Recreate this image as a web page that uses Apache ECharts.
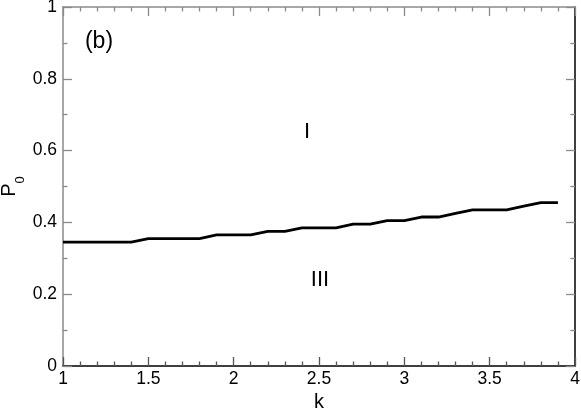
<!DOCTYPE html>
<html>
<head>
<meta charset="utf-8">
<script src="https://cdn.jsdelivr.net/npm/echarts@6/dist/echarts.min.js"></script>
<style>
html,body{margin:0;padding:0;background:#fff;}
#chart{width:581px;height:408px;}
</style>
</head>
<body>
<div id="chart"></div>
<script>
const kValues = [1.0,1.1,1.2,1.3,1.4,1.5,1.6,1.7,1.8,1.9,2.0,2.1,2.2,2.3,2.4,2.5,2.6,2.7,2.8,2.9,3.0,3.1,3.2,3.3,3.4,3.5,3.6,3.7,3.8,3.9];
const p0Values = [0.345,0.345,0.345,0.345,0.345,0.355,0.355,0.355,0.355,0.365,0.365,0.365,0.375,0.375,0.385,0.385,0.385,0.395,0.395,0.405,0.405,0.415,0.415,0.425,0.435,0.435,0.435,0.445,0.455,0.455];
const xTicks = [1, 1.5, 2, 2.5, 3, 3.5, 4];
const yTicks = [0, 0.2, 0.4, 0.6, 0.8, 1];

const FONT = "'Liberation Sans', Arial, Helvetica, sans-serif";
const chart = echarts.init(document.getElementById('chart'), null, {renderer:'canvas'});

function xAxisCfg(pos, showLabel, lineColor, tickColor) {
  return {
    type:'value', position:pos, min:xTicks[0], max:xTicks[xTicks.length-1], interval:0.5,
    axisLine:{show:true, onZero:false, lineStyle:{color:lineColor, width:1.5}},
    axisTick:{show:true, inside:true, length:9, lineStyle:{color:tickColor, width:1.3}},
    minorTick:{show:true, splitNumber:5, length:4.5, lineStyle:{color:tickColor, width:1.3}},
    splitLine:{show:false},
    axisLabel:{show:showLabel, color:'#000', fontSize:17.5, fontFamily:FONT, margin:4,
      formatter: v => String(v)}
  };
}
function yAxisCfg(pos, showLabel, lineColor, tickColor) {
  return {
    type:'value', position:pos, min:yTicks[0], max:yTicks[yTicks.length-1], interval:0.2,
    axisLine:{show:true, onZero:false, lineStyle:{color:lineColor, width:1.5}},
    axisTick:{show:true, inside:true, length:9, lineStyle:{color:tickColor, width:1.3}},
    minorTick:{show:true, splitNumber:2, length:4.5, lineStyle:{color:tickColor, width:1.3}},
    splitLine:{show:false},
    axisLabel:{show:showLabel, color:'#000', fontSize:17.5, fontFamily:FONT, margin:6,
      formatter: v => String(Math.round(v*10)/10)}
  };
}

const xBottom = xAxisCfg('bottom', true, '#000', '#555');
xBottom.name = 'k';
xBottom.nameLocation = 'middle';
xBottom.nameGap = 24;
xBottom.nameTextStyle = {color:'#000', fontSize:20, fontFamily:FONT};
const xTop = xAxisCfg('top', false, '#8a8a8a', '#8a8a8a');
const yLeft = yAxisCfg('left', true, '#8a8a8a', '#8a8a8a');
const yRight = yAxisCfg('right', false, '#000', '#8a8a8a');

chart.setOption({
  animation:false,
  backgroundColor:'#fff',
  grid:{left:63, right:6, top:7, bottom:42, containLabel:false, outerBoundsMode:'none'},
  xAxis:[xBottom, xTop],
  yAxis:[yLeft, yRight],
  series:[{
    type:'line', xAxisIndex:0, yAxisIndex:0,
    data: kValues.map((k,i)=>[k, p0Values[i]]),
    showSymbol:false, symbol:'none',
    lineStyle:{color:'#000', width:2.8},
    z:5
  }],
  graphic:[
    {type:'text', x:99, y:42, style:{text:'(b)', fill:'#000', font:'23px '+FONT, textAlign:'center', textVerticalAlign:'middle'}},
    {type:'text', x:307, y:132, style:{text:'I', fill:'#000', font:'22px '+FONT, textAlign:'center', textVerticalAlign:'middle'}},
    {type:'text', x:320, y:280, style:{text:'III', fill:'#000', font:'22px '+FONT, textAlign:'center', textVerticalAlign:'middle'}},
    {type:'text', x:9.5, y:190, rotation:Math.PI/2, style:{text:'P', fill:'#000', font:'20px '+FONT, textAlign:'center', textVerticalAlign:'middle'}},
    {type:'text', x:20, y:180, rotation:Math.PI/2, style:{text:'0', fill:'#000', font:'13px '+FONT, textAlign:'center', textVerticalAlign:'middle'}}
  ]
});
</script>
</body>
</html>
